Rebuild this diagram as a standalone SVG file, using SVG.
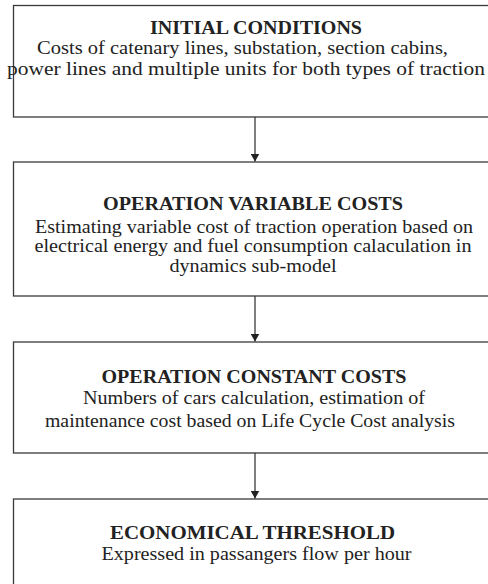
<svg xmlns="http://www.w3.org/2000/svg" width="488" height="584" viewBox="0 0 488 584">
<defs>
<style>
.box{fill:#fff;stroke:#3a3a3a;stroke-width:1.3}
.t{font-family:'Liberation Serif',Tinos,'Times New Roman',Times,serif;font-size:19.5px;fill:#222;text-anchor:middle}
.b{font-weight:bold}
.c{stroke:#3a3a3a;stroke-width:1.3;fill:none}
</style>
<marker id="ah" viewBox="0 0 8 9" refX="8" refY="4.5" markerWidth="8" markerHeight="9" markerUnits="userSpaceOnUse" orient="auto">
<path d="M0,0 L8,4.5 L0,9 Z" fill="#222"/>
</marker>
</defs>
<rect width="488" height="584" fill="#fff"/>
<g id="n1">
<rect class="box" x="13.5" y="5.5" width="490" height="111.5"/>
<text class="t b" x="256" y="33.5" textLength="212" lengthAdjust="spacingAndGlyphs">INITIAL CONDITIONS</text>
<text class="t" x="242.5" y="54" textLength="411" lengthAdjust="spacingAndGlyphs">Costs of catenary lines, substation, section cabins,</text>
<text class="t" x="246" y="75" textLength="478" lengthAdjust="spacingAndGlyphs">power lines and multiple units for both types of traction</text>
</g>
<g id="n2">
<rect class="box" x="13.5" y="162" width="490" height="134"/>
<text class="t b" x="253" y="210" textLength="300" lengthAdjust="spacingAndGlyphs">OPERATION VARIABLE COSTS</text>
<text class="t" x="254" y="232.5" textLength="438" lengthAdjust="spacingAndGlyphs">Estimating variable cost of traction operation based on</text>
<text class="t" x="253" y="252" textLength="437" lengthAdjust="spacingAndGlyphs">electrical energy and fuel consumption calaculation in</text>
<text class="t" x="253" y="271.5" textLength="167" lengthAdjust="spacingAndGlyphs">dynamics sub-model</text>
</g>
<g id="n3">
<rect class="box" x="13.5" y="342" width="490" height="111"/>
<text class="t b" x="254" y="382.5" textLength="305" lengthAdjust="spacingAndGlyphs">OPERATION CONSTANT COSTS</text>
<text class="t" x="254" y="404" textLength="342" lengthAdjust="spacingAndGlyphs">Numbers of cars calculation, estimation of</text>
<text class="t" x="250" y="426.5" textLength="410" lengthAdjust="spacingAndGlyphs">maintenance cost based on Life Cycle Cost analysis</text>
</g>
<g id="n4">
<rect class="box" x="13.5" y="499" width="490" height="100"/>
<text class="t b" x="252.5" y="538.5" textLength="285" lengthAdjust="spacingAndGlyphs">ECONOMICAL THRESHOLD</text>
<text class="t" x="256.5" y="560" textLength="310" lengthAdjust="spacingAndGlyphs">Expressed in passangers flow per hour</text>
</g>
<g id="connectors">
<line class="c" x1="255" y1="117" x2="255" y2="161.5" marker-end="url(#ah)"/>
<line class="c" x1="255" y1="296" x2="255" y2="341.5" marker-end="url(#ah)"/>
<line class="c" x1="255" y1="453" x2="255" y2="498.5" marker-end="url(#ah)"/>
</g>
</svg>
